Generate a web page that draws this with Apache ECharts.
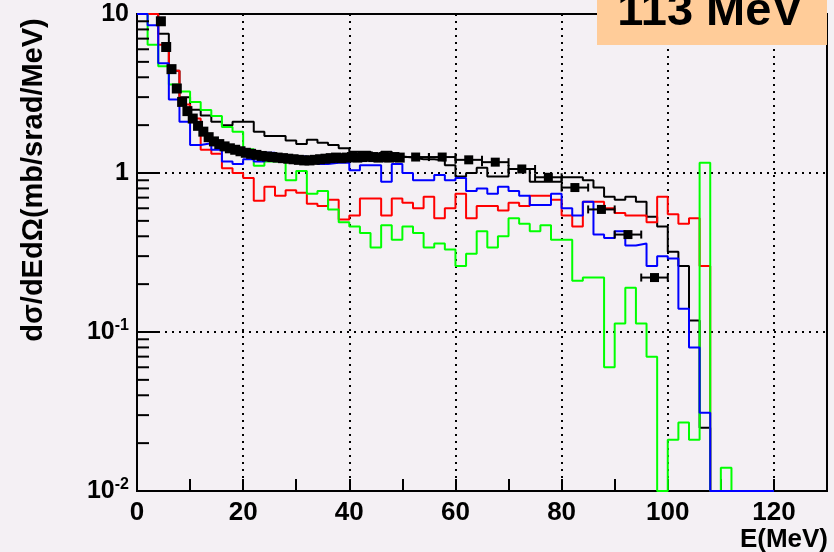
<!DOCTYPE html>
<html>
<head>
<meta charset="utf-8">
<script src="https://cdn.jsdelivr.net/npm/echarts@6/dist/echarts.min.js"></script>
<style>
  html, body { margin: 0; padding: 0; background: #f4f0f4; }
  #chart { width: 834px; height: 552px; }
</style>
</head>
<body>
<div id="chart"></div>
<script>
// Energy spectra, 2 MeV bins from 0 to 120 MeV (values >= 10 sit on the top frame).
const BIN_WIDTH = 2;
const histBlack = [10, 10, 7.5, 4.4, 3.0, 2.5, 2.3, 2.1, 2.0, 2.1,
  2.1, 1.82, 1.71, 1.71, 1.60, 1.52, 1.62, 1.55, 1.50, 1.43,
  1.36, 1.36, 1.30, 1.36, 1.27, 1.25, 1.22, 1.22, 1.20, 1.12,
  0.95, 1.0, 1.08, 0.95, 0.95, 1.06, 1.06, 0.88, 0.88, 0.88,
  0.94, 0.94, 0.90, 0.81, 0.71, 0.68, 0.71, 0.66, 0.53, 0.46,
  0.32, 0.26, 0.118, 0.025, 0, 0, 0, 0, 0, 0];
const histRed = [10, 10, 6.4, 4.4, 2.7, 2.2, 1.40, 1.32, 1.07, 1.0,
  0.93, 0.67, 0.82, 0.72, 0.78, 0.75, 0.64, 0.62, 0.68, 0.51,
  0.54, 0.69, 0.69, 0.54, 0.69, 0.65, 0.60, 0.71, 0.52, 0.60,
  0.74, 0.52, 0.62, 0.62, 0.58, 0.65, 0.62, 0.72, 0.72, 0.68,
  0.54, 0.46, 0.66, 0.66, 0.60, 0.56, 0.54, 0.54, 0.49, 0.71,
  0.55, 0.48, 0.52, 0.26, 0, 0, 0, 0, 0, 0];
const histGreen = [10, 6.4, 4.7, 3.6, 3.25, 2.8, 2.49, 2.28, 1.95, 1.82,
  1.41, 1.11, 1.18, 1.18, 0.90, 1.03, 0.74, 0.77, 0.59, 0.49,
  0.46, 0.42, 0.34, 0.47, 0.38, 0.46, 0.42, 0.34, 0.36, 0.33,
  0.26, 0.31, 0.43, 0.34, 0.40, 0.52, 0.48, 0.43, 0.47, 0.38,
  0.38, 0.21, 0.22, 0.22, 0.060, 0.113, 0.19, 0.113, 0.070, 0,
  0.021, 0.027, 0.021, 1.16, 0, 0.014, 0, 0, 0, 0];
const histBlue = [10, 8.5, 4.9, 2.9, 2.1, 1.50, 1.54, 1.40, 1.18, 1.14,
  1.22, 1.18, 1.34, 1.30, 1.18, 1.27, 1.20, 1.14, 1.16, 1.16,
  1.04, 1.12, 1.12, 0.88, 1.14, 1.0, 0.90, 0.90, 0.97, 0.90,
  0.93, 0.77, 0.80, 0.74, 0.82, 0.77, 0.72, 0.63, 0.63, 0.74,
  0.60, 0.54, 0.66, 0.41, 0.39, 0.43, 0.35, 0.36, 0.26, 0.30,
  0.29, 0.14, 0.08, 0.031, 0, 0, 0, 0, 0, 0];

// Measured points: energy, cross section, half width of the energy bin.
const dataE = [4.5, 5.5, 6.5, 7.5, 8.5, 9.5, 10.5, 11.5, 12.5, 13.5,
  14.5, 15.5, 16.5, 17.5, 18.5, 19.5, 20.5, 21.5, 22.5, 23.5,
  24.5, 25.5, 26.5, 27.5, 28.5, 29.5, 30.5, 31.5, 32.5, 33.5,
  34.5, 35.5, 36.5, 37.5, 38.5, 39.5, 40.5, 41.5, 42.5, 43.5,
  44.5, 45.5, 46.5, 47.5, 48.5, 49.5,
  52.5, 57.5, 62.5, 67.5, 72.5, 77.5, 82.5, 87.5, 92.5, 97.5];
const dataV = [9.0, 6.2, 4.5, 3.4, 2.8, 2.45, 2.2, 1.98, 1.82, 1.68,
  1.58, 1.52, 1.47, 1.43, 1.40, 1.37, 1.34, 1.32, 1.30, 1.28,
  1.27, 1.26, 1.25, 1.24, 1.23, 1.22, 1.21, 1.20, 1.20, 1.21,
  1.22, 1.23, 1.24, 1.25, 1.24, 1.25, 1.26, 1.25, 1.26, 1.27,
  1.26, 1.25, 1.26, 1.25, 1.26, 1.25,
  1.26, 1.26, 1.21, 1.17, 1.06, 0.94, 0.81, 0.59, 0.41, 0.22];
const dataErr = [0.5, 0.5, 0.5, 0.5, 0.5, 0.5, 0.5, 0.5, 0.5, 0.5,
  0.5, 0.5, 0.5, 0.5, 0.5, 0.5, 0.5, 0.5, 0.5, 0.5,
  0.5, 0.5, 0.5, 0.5, 0.5, 0.5, 0.5, 0.5, 0.5, 0.5,
  0.5, 0.5, 0.5, 0.5, 0.5, 0.5, 0.5, 0.5, 0.5, 0.5,
  0.5, 0.5, 0.5, 0.5, 0.5, 0.5,
  2.5, 2.5, 2.5, 2.5, 2.5, 2.5, 2.5, 2.5, 2.5, 2.5];

const xTicks = [0, 20, 40, 60, 80, 100, 120];
const yDecades = [0.01, 0.1, 1, 10];
const Y_MIN = 0.01, Y_MAX = 10;
const FONT = '"Liberation Sans", Arial, Helvetica, sans-serif';

// Histogram outline: horizontal run across each bin, joined by vertical edges.
// Empty bins rest on the bottom frame, overflowing bins on the top frame.
function outline(values) {
  const pts = [];
  values.forEach((v, i) => {
    const y = Math.min(Y_MAX, Math.max(Y_MIN, v));
    pts.push([i * BIN_WIDTH, y], [(i + 1) * BIN_WIDTH, y]);
  });
  return pts;
}

function histSeries(values, color) {
  return {
    type: 'line', data: outline(values), symbol: 'none', clip: true,
    lineStyle: { color: color, width: 2 }, animation: false, z: 3
  };
}

// Log-axis minor tick positions: 2..9 within each decade.
const minorTickValues = [];
for (let d = 0; d < yDecades.length - 1; d++) {
  for (let k = 2; k <= 9; k++) minorTickValues.push([0, k * yDecades[d]]);
}

const chart = echarts.init(document.getElementById('chart'), null, { renderer: 'canvas' });

chart.setOption({
  backgroundColor: '#f4f0f4',
  animation: false,
  grid: {
    left: 137, right: 7, top: 14, bottom: 61,
    show: true, borderColor: '#000', borderWidth: 2, backgroundColor: 'transparent'
  },
  xAxis: {
    type: 'value', min: 0, max: 130, interval: 20,
    axisLine: { lineStyle: { color: '#000', width: 2 } },
    axisTick: { inside: true, length: 12, lineStyle: { color: '#000', width: 2 } },
    minorTick: { show: true, splitNumber: 2, length: 12, lineStyle: { color: '#000', width: 2 } },
    axisLabel: {
      color: '#000', fontFamily: FONT, fontWeight: 'bold', fontSize: 26, margin: 9,
      showMaxLabel: false,
      formatter: v => (xTicks.indexOf(v) >= 0 ? String(v) : '')
    },
    splitLine: { show: true, lineStyle: { color: '#000', width: 2, type: [2, 5] } }
  },
  yAxis: {
    type: 'log', logBase: 10, min: Y_MIN, max: Y_MAX,
    axisLine: { lineStyle: { color: '#000', width: 2 } },
    axisTick: { inside: true, length: 23, lineStyle: { color: '#000', width: 2 } },
    axisLabel: {
      color: '#000', fontFamily: FONT, fontWeight: 'bold', fontSize: 25, margin: 8,
      formatter: v => {
        const p = Math.round(Math.log10(v));
        if (p >= 0) return '{b|' + Math.pow(10, p) + '}';
        return '{b|10}{s|' + p + '}';
      },
      rich: {
        b: { fontFamily: FONT, fontWeight: 'bold', fontSize: 25, color: '#000', lineHeight: 28 },
        s: { fontFamily: FONT, fontWeight: 'bold', fontSize: 16, color: '#000', lineHeight: 28, verticalAlign: 'top', padding: [0, 0, 14, 0] }
      }
    },
    splitLine: { show: true, lineStyle: { color: '#000', width: 2, type: [2, 5] } }
  },
  graphic: [
    {
      type: 'text', x: 34, y: 180, rotation: Math.PI / 2, z: 10,
      style: {
        text: 'dσ/dEdΩ(mb/srad/MeV)', fill: '#000',
        font: 'bold 29px ' + FONT, textAlign: 'center', textVerticalAlign: 'middle'
      }
    },
    {
      type: 'text', x: 828, y: 540, z: 10,
      style: {
        text: 'E(MeV)', fill: '#000',
        font: 'bold 26px ' + FONT, textAlign: 'right', textVerticalAlign: 'middle'
      }
    },
    {
      type: 'rect', shape: { x: 597, y: 0, width: 230, height: 45 }, z: 20,
      style: { fill: '#ffcc99' }
    },
    {
      type: 'text', x: 710, y: 36, z: 21,
      style: {
        text: '113 MeV', fill: '#000',
        font: 'bold 47px ' + FONT, textAlign: 'center', textVerticalAlign: 'bottom'
      }
    }
  ],
  series: [
    {
      type: 'custom', data: minorTickValues, clip: false, silent: true, z: 4,
      renderItem: (params, api) => {
        const p = api.coord([api.value(0), api.value(1)]);
        return { type: 'line', shape: { x1: p[0], y1: p[1], x2: p[0] + 12, y2: p[1] },
          style: { stroke: '#000', lineWidth: 2 } };
      }
    },
    histSeries(histBlack, '#000000'),
    histSeries(histRed, '#ff0000'),
    histSeries(histGreen, '#00ff00'),
    histSeries(histBlue, '#0000ff'),
    {
      type: 'custom', z: 5, clip: true,
      data: dataE.map((e, i) => [e, dataV[i], dataErr[i]]),
      renderItem: (params, api) => {
        const x = api.value(0), y = api.value(1), e = api.value(2);
        const a = api.coord([x - e, y]);
        const b = api.coord([x + e, y]);
        const st = { stroke: '#000', lineWidth: 2 };
        return { type: 'group', children: [
          { type: 'line', shape: { x1: a[0], y1: a[1], x2: b[0], y2: b[1] }, style: st },
          { type: 'line', shape: { x1: a[0], y1: a[1] - 4, x2: a[0], y2: a[1] + 4 }, style: st },
          { type: 'line', shape: { x1: b[0], y1: b[1] - 4, x2: b[0], y2: b[1] + 4 }, style: st }
        ] };
      }
    },
    {
      type: 'scatter', z: 6, symbol: 'rect',
      // narrow-bin points merge into a continuous band, wide-bin points stay separate
      symbolSize: (val, params) => (dataErr[params.dataIndex] < 1 ? 10 : 9),
      itemStyle: { color: '#000', opacity: 1 },
      data: dataE.map((e, i) => [e, dataV[i]])
    }
  ]
});
</script>
</body>
</html>
